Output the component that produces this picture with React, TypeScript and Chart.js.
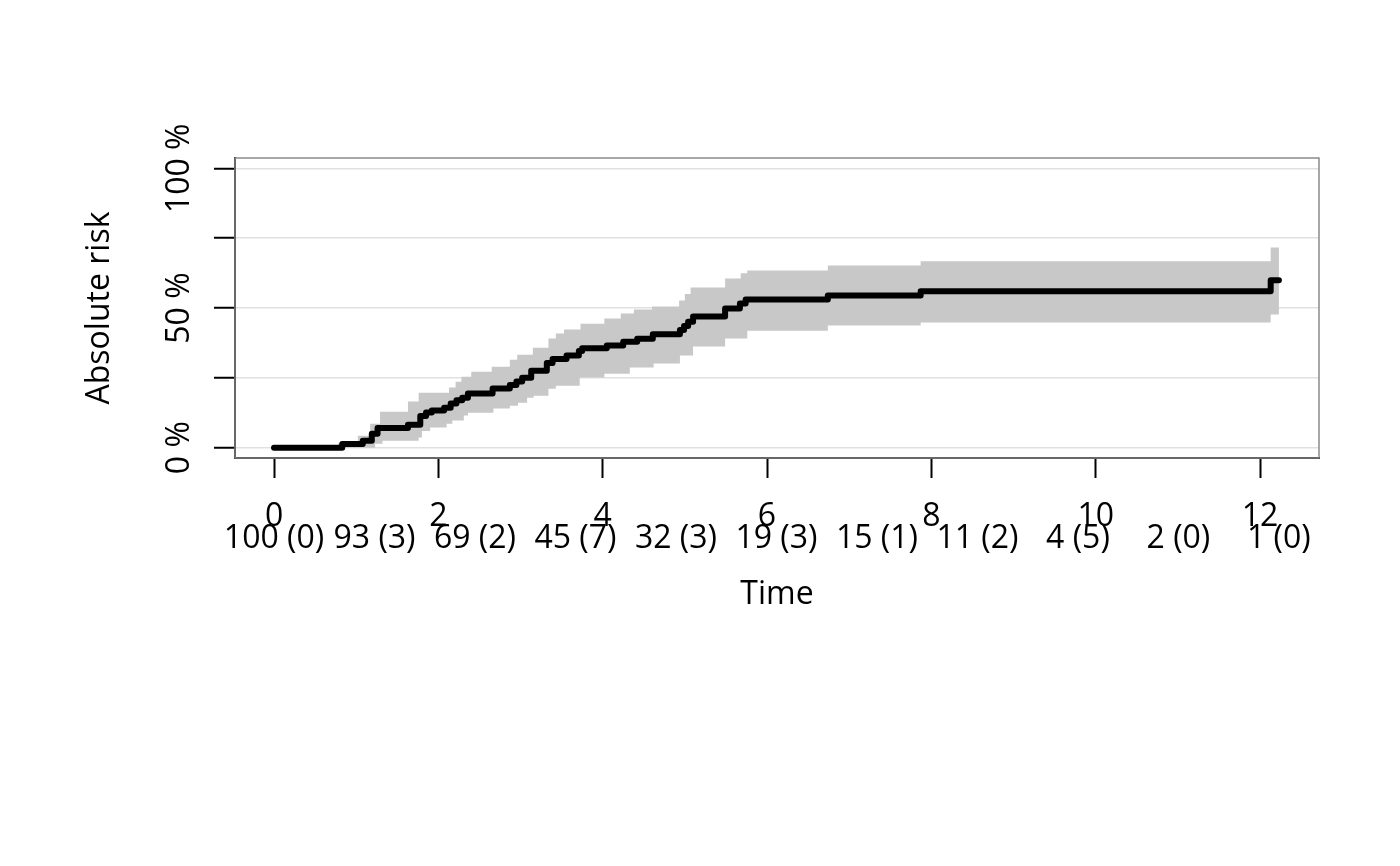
import React, { useEffect, useRef } from "react";
import { Chart, registerables } from "chart.js";

Chart.register(...registerables);

// ---- data ----
const xTickValues = [0, 2, 4, 6, 8, 10, 12];
const yTickValues = [0, 25, 50, 75, 100];
const yLabelValues = [0, 50, 100];

const riskTimes = [0, 0.83, 1.08, 1.19, 1.26, 1.63, 1.78, 1.85, 1.92, 2.07, 2.15, 2.22, 2.29, 2.36, 2.66, 2.87, 2.95, 3.02, 3.13, 3.32, 3.39, 3.56, 3.71, 3.75, 4.05, 4.25, 4.42, 4.61, 4.94, 4.99, 5.04, 5.10, 5.49, 5.67, 5.74, 6.74, 7.87, 12.13, 12.23];
const riskValues = [0, 1.3, 2.5, 5.0, 7.0, 8.2, 11.3, 12.6, 13.3, 14.3, 15.8, 17.0, 17.9, 19.4, 21.2, 22.4, 23.7, 25.0, 27.5, 30.3, 31.7, 33.0, 34.6, 35.6, 36.6, 37.9, 39.0, 40.6, 42.1, 43.6, 45.1, 47.0, 49.8, 51.6, 53.0, 54.5, 56.0, 59.9, 59.9];

const lowerTimes = [0, 1.23, 1.32, 1.76, 1.8, 1.9, 2.1, 2.17, 2.31, 2.36, 2.67, 2.87, 2.97, 3.08, 3.16, 3.34, 3.43, 3.72, 4.02, 4.33, 4.62, 4.94, 5.1, 5.49, 5.76, 6.74, 7.87, 12.13, 12.23];
const lowerValues = [0, 1.4, 2.5, 3.6, 6.0, 7.2, 8.6, 9.7, 11.5, 12.5, 14.0, 15.0, 16.1, 17.9, 18.6, 21.1, 22.2, 25.1, 26.5, 28.7, 30.1, 33.0, 36.2, 39.1, 41.9, 43.7, 44.8, 47.7, 47.7];

const upperTimes = [0, 0.78, 1.02, 1.17, 1.29, 1.63, 1.76, 2.13, 2.21, 2.28, 2.4, 2.65, 2.87, 2.96, 3.15, 3.34, 3.43, 3.53, 3.73, 4.02, 4.22, 4.38, 4.6, 4.93, 5.0, 5.07, 5.49, 5.68, 5.76, 6.74, 7.87, 12.13, 12.23];
const upperValues = [0, 1.5, 4.3, 8.6, 12.9, 16.5, 19.7, 21.5, 23.6, 25.4, 27.2, 29.0, 31.5, 33.3, 35.8, 39.1, 40.9, 42.3, 44.4, 46.2, 48.0, 49.5, 50.5, 52.7, 55.0, 57.3, 60.6, 62.4, 63.4, 65.2, 66.7, 71.7, 71.7];

const atRiskTimes = [0, 1.223, 2.446, 3.669, 4.892, 6.115, 7.338, 8.561, 9.784, 11.007, 12.23];
const atRiskLabels = ["100 (0)", "93 (3)", "69 (2)", "45 (7)", "32 (3)", "19 (3)", "15 (1)", "11 (2)", "4 (5)", "2 (0)", "1 (0)"];

const FONT = "'Open Sans', 'Noto Sans', sans-serif";
const FS = 32;

const toPoints = (xs: number[], ys: number[]) => xs.map((x, i) => ({ x, y: ys[i] }));

export default function App() {
  const ref = useRef<HTMLCanvasElement | null>(null);

  useEffect(() => {
    if (!ref.current) return;
    Chart.defaults.font.family = FONT;
    Chart.defaults.color = "#000";

    const extras = {
      id: "extras",
      beforeDatasetsDraw(chart: any) {
        const { ctx, chartArea } = chart;
        ctx.save();
        ctx.strokeStyle = "#8a8a8a";
        ctx.lineWidth = 1.5;
        ctx.strokeRect(chartArea.left, chartArea.top, chartArea.right - chartArea.left, chartArea.bottom - chartArea.top);
        ctx.restore();
      },
      afterDraw(chart: any) {
        const { ctx } = chart;
        const xs = chart.scales.x;
        const ys = chart.scales.y;
        ctx.save();
        ctx.fillStyle = "#000";
        ctx.font = `${FS}px ${FONT}`;
        ctx.textAlign = "center";
        ctx.textBaseline = "alphabetic";
        atRiskTimes.forEach((t, i) => {
          ctx.fillText(atRiskLabels[i], xs.getPixelForValue(t), 548);
        });
        yLabelValues.forEach((v) => {
          ctx.save();
          ctx.translate(189, ys.getPixelForValue(v));
          ctx.rotate(-Math.PI / 2);
          ctx.fillText(`${v} %`, 0, 0);
          ctx.restore();
        });
        ctx.restore();
      },
    };

    const chart = new Chart(ref.current, {
      type: "line",
      data: {
        datasets: [
          {
            label: "lower",
            data: toPoints(lowerTimes, lowerValues),
            stepped: true,
            borderWidth: 0,
            borderColor: "rgba(0,0,0,0)",
            pointRadius: 0,
            fill: false,
            order: 3,
          },
          {
            label: "upper",
            data: toPoints(upperTimes, upperValues),
            stepped: true,
            borderWidth: 0,
            borderColor: "rgba(0,0,0,0)",
            backgroundColor: "#c8c8c8",
            pointRadius: 0,
            fill: "-1",
            order: 2,
          },
          {
            label: "risk",
            data: toPoints(riskTimes, riskValues),
            stepped: true,
            borderWidth: 6,
            borderColor: "#000",
            borderCapStyle: "round",
            borderJoinStyle: "round",
            pointRadius: 0,
            fill: false,
            order: 1,
          },
        ],
      },
      options: {
        animation: false,
        responsive: false,
        devicePixelRatio: 1,
        layout: { padding: { left: 0, top: 158, right: 81, bottom: 226 } },
        plugins: { legend: { display: false }, tooltip: { enabled: false } },
        scales: {
          x: {
            type: "linear",
            min: -0.475,
            max: 12.718,
            z: 1,
            afterFit: (s: any) => { s.height = 182; },
            afterBuildTicks: (s: any) => { s.ticks = xTickValues.map((v) => ({ value: v })); },
            grid: { drawOnChartArea: false, drawTicks: true, tickLength: 20, tickColor: "#000", tickWidth: 2 },
            border: { display: true, color: "#000", width: 2 },
            ticks: { padding: 20, font: { size: FS }, color: "#000", maxRotation: 0, autoSkip: false, callback: (v: any) => String(v) },
            title: { display: true, text: "Time", font: { size: FS }, color: "#000", padding: { top: 0, bottom: 26 } },
          },
          y: {
            type: "linear",
            min: -3.7,
            max: 103.7,
            z: 1,
            afterFit: (s: any) => { s.width = 235; },
            afterBuildTicks: (s: any) => { s.ticks = yTickValues.map((v) => ({ value: v })); },
            grid: { drawOnChartArea: true, color: "rgba(0,0,0,0.12)", lineWidth: 1.5, drawTicks: true, tickLength: 21, tickColor: "#000", tickWidth: 2 },
            border: { display: true, color: "#000", width: 2 },
            ticks: { display: false },
            title: { display: true, text: "Absolute risk", font: { size: FS }, color: "#000", padding: { top: 81, bottom: 0 } },
          },
        },
      },
      plugins: [extras],
    } as any);

    return () => chart.destroy();
  }, []);

  return (
    <div style={{ position: "fixed", left: 0, top: 0, width: 1400, height: 866, background: "#fff" }}>
      <canvas ref={ref} width={1400} height={866} style={{ width: 1400, height: 866, display: "block" }} />
    </div>
  );
}
